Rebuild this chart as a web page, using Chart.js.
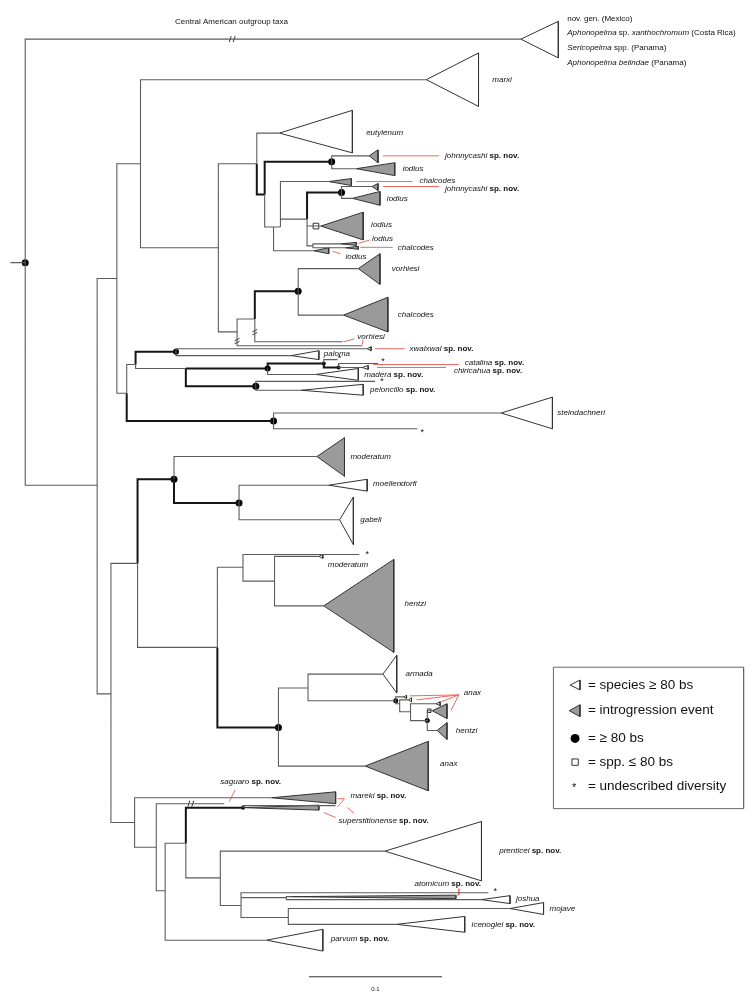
<!DOCTYPE html>
<html>
<head>
<meta charset="utf-8">
<script src="https://cdn.jsdelivr.net/npm/chart.js@4.4.1/dist/chart.umd.min.js"></script>
<style>
  html, body { margin: 0; padding: 0; background: #fff; }
  #tree { display: block; }
</style>
</head>
<body>
<canvas id="tree" width="756" height="1007"></canvas>
<script>
// tree layout: depth runs left->right, row runs top->bottom (same units as the figure)
// [id, parent, depth, row, bold]
const nodes = [
  ["root", null, 20, 260, 0],
  ["n93", "root", 93, 485, 0],
  ["n113", "n93", 113, 276, 0],
  ["n137", "n113", 137, 160, 0],
  ["n216", "n137", 216, 245, 0],
  ["n255", "n216", 255, 160, 0],
  ["n263", "n255", 263, 191, 1],
  ["n331", "n263", 331, 158, 1],
  ["n272", "n263", 272, 224, 0],
  ["n279", "n272", 279, 224, 0],
  ["n306", "n279", 306, 216, 0],
  ["n341", "n306", 341, 189, 1],
  ["n315", "n306", 315, 223, 0],
  ["n312", "n306", 312, 243, 0],
  ["n235", "n216", 235, 330, 0],
  ["n253", "n235", 253, 317, 0],
  ["n297", "n253", 297, 289, 1],
  ["n123", "n113", 123, 392, 0],
  ["n132", "n123", 132, 363, 0],
  ["n173", "n132", 173, 350, 1],
  ["n183", "n132", 183, 367, 0],
  ["n266", "n183", 266, 367, 1],
  ["n323", "n266", 323, 362, 1],
  ["n338", "n323", 338, 366, 1],
  ["n254", "n183", 254, 385, 1],
  ["n272b", "n123", 272, 420, 1],
  ["n107", "n93", 107, 696, 0],
  ["n134", "n107", 134, 564, 0],
  ["n171", "n134", 171, 479, 1],
  ["n237", "n171", 237, 503, 1],
  ["n215", "n134", 215, 649, 0],
  ["n241", "n215", 241, 568, 0],
  ["n273", "n241", 273, 582, 0],
  ["n277", "n215", 277, 730, 1],
  ["n307", "n277", 307, 690, 0],
  ["n396", "n307", 396, 703, 0],
  ["n400", "n396", 400, 706, 0],
  ["n411", "n400", 411, 714, 0],
  ["n428", "n411", 428, 723, 0],
  ["n131", "n107", 131, 826, 0],
  ["n153", "n131", 153, 851, 0],
  ["n162", "n153", 162, 895, 0],
  ["n183b", "n162", 183, 847, 0],
  ["n241b", "n183b", 241, 811, 1],
  ["n218", "n183b", 218, 882, 0],
  ["n239", "n218", 239, 910, 0],
  ["n285", "n239", 285, 902, 0],
  ["n287", "n239", 287, 922, 0],
];

// collapsed clades: [name, parent, apex, row, base, top, bottom, introgression]
const clades = [
  ["outgroup", "root", 523, 34, 561, 16, 53, 0],
  ["marxi", "n137", 427, 75, 480, 48, 102, 0],
  ["eutylenum", "n255", 278, 129, 352, 106, 149, 0],
  ["johnnycashi", "n331", 369, 152, 378, 146, 159, 1],
  ["iodius", "n331", 356, 165, 395, 159, 172, 1],
  ["chalcodes", "n279", 328, 178, 351, 175, 182, 1],
  ["johnnycashi", "n341", 372, 183, 378, 180, 187, 1],
  ["iodius", "n341", 352, 195, 380, 188, 202, 1],
  ["iodius", "n315", 320, 223, 363, 209, 237, 1],
  ["iodius", "n312", 340, 241, 356, 239.5, 242.5, 1],
  ["chalcodes", "n312", 345, 245, 358, 243.5, 246.5, 1],
  ["iodius", "n272", 313, 248, 328, 245, 251, 1],
  ["vorhiesi", "n297", 358, 266, 380, 251, 282, 1],
  ["chalcodes", "n297", 343, 313, 388, 295, 330, 1],
  ["xwalxwal", "n173", 367, 347, 371, 345, 349, 0],
  ["paloma", "n173", 290, 354, 318, 349, 358, 0],
  ["catalina", "n338", 362, 366, 368, 364, 368, 0],
  ["madera", "n266", 315, 373, 358, 367, 379, 0],
  ["peloncillo", "n254", 300, 389, 363, 383, 394, 0],
  ["steindachneri", "n272b", 503, 412, 555, 396, 428, 0],
  ["moderatum", "n171", 316, 456, 344, 437, 476, 1],
  ["moellendorfi", "n237", 328, 485, 367, 479, 491, 0],
  ["gabeli", "n237", 339, 520, 353, 497, 545, 0],
  ["moderatum", "n273", 318, 557, 322, 555, 559, 0],
  ["hentzi", "n273", 323, 607, 394, 560, 654, 1],
  ["armada", "n307", 383, 676, 397, 657, 695, 0],
  ["anax", "n396", 404, 699, 407, 697.5, 700.5, 0],
  ["anax", "n400", 409, 702, 412, 700, 704, 0],
  ["anax", "n411", 437, 706, 441, 704, 708, 0],
  ["anax", "n428", 433, 713, 448, 706, 721, 1],
  ["hentzi", "n428", 438, 733, 448, 725, 742, 1],
  ["anax", "n277", 365, 769, 429, 744, 794, 1],
  ["mareki", "n131", 270, 801, 335, 795, 807, 1],
  ["superstitionense", "n241b", 241, 811, 318, 808.5, 813.5, 1],
  ["prenticei", "n218", 385, 855, 483, 825, 885, 0],
  ["atomicum", "n285", 290, 901, 457, 899.5, 903, 1],
  ["joshua", "n285", 483, 904, 512, 900, 908, 0],
  ["mojave", "n287", 512, 913, 546, 907, 919, 0],
  ["icenoglei", "n287", 397, 929, 466, 921, 937, 0],
  ["parvum", "n162", 265, 945, 322, 934, 956, 0],
];

// single terminals: [parent, depth, row]
const bareTips = [
  ["n253", 342, 340],
  ["n235", 362, 344],
  ["n323", 337, 358],
  ["n338", 378, 362],
  ["n254", 375, 380],
  ["n272b", 418, 428],
  ["n241", 359, 555],
  ["n153", 222, 807],
  ["n241b", 335, 809],
  ["n239", 490, 897],
];

// bootstrap >= 80: [node, radius]
const supportDots = [
  ["root", 3.5], ["n331", 3.5], ["n341", 3.5], ["n297", 3.5], ["n173", 3],
  ["n266", 3], ["n254", 3.5], ["n272b", 3.5], ["n171", 3.5], ["n237", 3.5],
  ["n277", 3.5], ["n428", 2.5], ["n241b", 2], ["n323", 2], ["n338", 2], ["n396", 2.5],
];
// weak support squares: [depth, row, size]
const weakSquares = [[315, 223, 4], [430, 713, 2.5]];
const asterisks = [[339, 355], [383, 358], [382, 378], [423, 430], [367, 553], [497, 894]];
// branch breaks: [depth, row, onVertical]
const breaks = [[230, 34, 0], [188, 807, 0], [235, 338, 1], [253, 329, 1]];

// red pointer lines
const pointers = [
  [[383, 152], [440, 152]],
  [[356, 178], [413, 178]],
  [[383, 183], [440, 183]],
  [[358, 240.5], [370, 237]],
  [[360, 244.5], [393, 244.5]],
  [[332, 248.5], [340, 251]],
  [[343, 340], [354, 337]],
  [[363, 338], [362, 343]],
  [[375, 347], [405, 347]],
  [[373, 363], [460, 363]],
  [[377, 366], [447, 366]],
  [[410, 698], [460, 697]],
  [[417, 702], [460, 697]],
  [[442, 704], [460, 697]],
  [[452, 713], [460, 697]],
  [[233, 793], [227, 805]],
  [[337, 802], [344, 802], [337, 810]],
  [[347, 811], [354, 817]],
  [[323, 816], [335, 821]],
  [[460, 893], [460, 899], [457, 900]],
];

// labels: [x, y, size, [[text, style]...]]  style i=italic b=bold n=normal
const labels = [
  [172, 16, 8, [["Central American outgroup taxa", "n"]]],
  [570, 13, 8, [["nov. gen. (Mexico)", "n"]]],
  [570, 28, 8, [["Aphonopelma", "i"], [" sp. ", "n"], ["xanthochromum", "i"], [" (Costa Rica)", "n"]]],
  [570, 43, 8, [["Sericopelma", "i"], [" spp. (Panama)", "n"]]],
  [570, 58, 8, [["Aphonopelma belindae", "i"], [" (Panama)", "n"]]],
  [494, 75, 8, [["marxi", "i"]]],
  [366, 129, 8, [["eutylenum", "i"]]],
  [446, 152, 8, [["johnnycashi", "i"], [" sp. nov.", "b"]]],
  [403, 165, 8, [["iodius", "i"]]],
  [420, 177, 8, [["chalcodes", "i"]]],
  [446, 185, 8, [["johnnycashi", "i"], [" sp. nov.", "b"]]],
  [387, 195, 8, [["iodius", "i"]]],
  [371, 222, 8, [["iodius", "i"]]],
  [372, 236, 8, [["iodius", "i"]]],
  [398, 245, 8, [["chalcodes", "i"]]],
  [345, 254, 8, [["iodius", "i"]]],
  [392, 266, 8, [["vorhiesi", "i"]]],
  [398, 313, 8, [["chalcodes", "i"]]],
  [357, 335, 8, [["vorhiesi", "i"]]],
  [410, 347, 8, [["xwalxwal", "i"], [" sp. nov.", "b"]]],
  [323, 352, 8, [["paloma", "i"]]],
  [466, 361, 8, [["catalina", "i"], [" sp. nov.", "b"]]],
  [455, 369, 8, [["chiricahua", "i"], [" sp. nov.", "b"]]],
  [364, 373, 8, [["madera", "i"], [" sp. nov.", "b"]]],
  [370, 389, 8, [["peloncillo", "i"], [" sp. nov.", "b"]]],
  [560, 412, 8, [["steindachneri", "i"]]],
  [350, 456, 8, [["moderatum", "i"]]],
  [373, 484, 8, [["moellendorfi", "i"]]],
  [360, 520, 8, [["gabeli", "i"]]],
  [327, 565, 8, [["moderatum", "i"]]],
  [405, 605, 8, [["hentzi", "i"]]],
  [406, 676, 8, [["armada", "i"]]],
  [465, 695, 8, [["anax", "i"]]],
  [457, 733, 8, [["hentzi", "i"]]],
  [441, 767, 8, [["anax", "i"]]],
  [218, 785, 8, [["saguaro", "i"], [" sp. nov.", "b"]]],
  [350, 799, 8, [["mareki", "i"], [" sp. nov.", "b"]]],
  [338, 824, 8, [["superstitionense", "i"], [" sp. nov.", "b"]]],
  [501, 855, 8, [["prenticei", "i"], [" sp. nov.", "b"]]],
  [415, 888, 8, [["atomicum", "i"], [" sp. nov.", "b"]]],
  [518, 903, 8, [["joshua", "i"]]],
  [552, 913, 8, [["mojave", "i"]]],
  [473, 929, 8, [["icenoglei", "i"], [" sp. nov.", "b"]]],
  [330, 944, 8, [["parvum", "i"], [" sp. nov.", "b"]]],
];

// key box and scale bar
const keyBox = [556, 669, 749, 812];
const keyTexts = ["= species \u2265 80 bs", "= introgression event", "= \u2265 80 bs", "= spp. \u2264 80 bs", "= undescribed diversity"];
const keyRows = [687, 713, 741, 765, 789];
const scaleBar = [308, 443, 982];
const scaleLabel = "0.1";

const byId = new Map(nodes.map((n) => [n[0], n]));
const GAP = { x: null, y: null };

function elbow(parentId, x, y) {
  const p = byId.get(parentId);
  return [{ x: p[2], y: p[3] }, { x: p[2], y }, { x, y }, GAP];
}

const thinPts = [];
const boldPts = [];
for (const n of nodes) {
  if (!n[1]) continue;
  (n[4] ? boldPts : thinPts).push(...elbow(n[1], n[2], n[3]));
}
for (const c of clades) {
  if (c[1] === "n241b") continue;
  thinPts.push(...elbow(c[1], c[2], c[3]));
}
for (const t of bareTips) thinPts.push(...elbow(t[0], t[1], t[2]));
thinPts.push({ x: 5, y: 260 }, { x: 20, y: 260 }, GAP);

const breakPts = [];
for (const b of breaks) {
  const [bx, by, vert] = b;
  if (vert) {
    breakPts.push({ x: bx - 2.5, y: by + 1 }, { x: bx + 2.5, y: by - 1.5 }, GAP);
    breakPts.push({ x: bx - 2.5, y: by + 4 }, { x: bx + 2.5, y: by + 1.5 }, GAP);
  } else {
    breakPts.push({ x: bx - 3, y: by + 3 }, { x: bx - 1, y: by - 3 }, GAP);
    breakPts.push({ x: bx + 1, y: by + 3 }, { x: bx + 3, y: by - 3 }, GAP);
  }
}

const redPts = [];
for (const p of pointers) {
  for (const [x, y] of p) redPts.push({ x, y });
  redPts.push(GAP);
}

function triangle(apex, y, base, top, bottom) {
  return [{ x: apex, y }, { x: base, y: top }, { x: base, y: bottom }, { x: apex, y }];
}

const lineDefaults = { showLine: true, pointRadius: 0, spanGaps: false, fill: false, tension: 0 };

const datasets = [
  { ...lineDefaults, data: thinPts, borderColor: "#5c5c5c", borderWidth: 1.1 },
  { ...lineDefaults, data: boldPts, borderColor: "#151515", borderWidth: 2 },
  { ...lineDefaults, data: breakPts, borderColor: "#333", borderWidth: 1 },
  { ...lineDefaults, data: redPts, borderColor: "#ec6b61", borderWidth: 1 },
];

for (const c of clades) {
  datasets.push({
    ...lineDefaults,
    data: triangle(c[2], c[3], c[4], c[5], c[6]),
    borderColor: "#333",
    borderWidth: 1,
    fill: "shape",
    backgroundColor: c[7] ? "#9a9a9a" : "#ffffff",
  });
}

// key symbols
const [kx0, ky0, kx1, ky1] = keyBox;
datasets.push({
  ...lineDefaults,
  data: [{ x: kx0, y: ky0 }, { x: kx1, y: ky0 }, { x: kx1, y: ky1 }, { x: kx0, y: ky1 }, { x: kx0, y: ky0 }],
  borderColor: "#666", borderWidth: 1,
});
datasets.push({ ...lineDefaults, data: triangle(573, keyRows[0], 583, keyRows[0] - 5, keyRows[0] + 5), borderColor: "#333", borderWidth: 1, fill: "shape", backgroundColor: "#fff" });
datasets.push({ ...lineDefaults, data: triangle(572, keyRows[1], 583, keyRows[1] - 6, keyRows[1] + 6), borderColor: "#333", borderWidth: 1, fill: "shape", backgroundColor: "#9a9a9a" });

// scale bar
datasets.push({ ...lineDefaults, data: [{ x: scaleBar[0], y: scaleBar[2] }, { x: scaleBar[1], y: scaleBar[2] }], borderColor: "#333", borderWidth: 1 });

// support symbols
datasets.push({
  showLine: false,
  data: supportDots.map(([id]) => ({ x: byId.get(id)[2], y: byId.get(id)[3] })).concat([{ x: 578, y: keyRows[2] }]),
  pointRadius: supportDots.map((d) => d[1]).concat([4.5]),
  pointBackgroundColor: "#000",
  pointBorderWidth: 0,
});
datasets.push({
  showLine: false,
  data: weakSquares.map(([x, y]) => ({ x, y })).concat([{ x: 578, y: keyRows[3] }]),
  pointStyle: "rect",
  pointRadius: weakSquares.map((s) => s[2]).concat([4.5]),
  pointBackgroundColor: "#fff",
  pointBorderColor: "#333",
  pointBorderWidth: 1,
});

const FONT = '"Liberation Sans", Arial, Helvetica, sans-serif';

function drawRich(ctx, x, y, size, segs) {
  let cx = x;
  for (const [text, style] of segs) {
    const st = style === "i" ? "italic " : style === "b" ? "bold " : "";
    ctx.font = `${st}${size}px ${FONT}`;
    ctx.fillText(text, cx, y);
    cx += ctx.measureText(text).width;
  }
}

const treeText = {
  id: "treeText",
  afterDatasetsDraw(chart) {
    const { ctx } = chart;
    const xs = chart.scales.x;
    const ys = chart.scales.y;
    ctx.save();
    ctx.fillStyle = "#111";
    ctx.textBaseline = "middle";
    ctx.textAlign = "left";
    for (const [x, y, size, segs] of labels) {
      drawRich(ctx, xs.getPixelForValue(x), ys.getPixelForValue(y), size, segs);
    }
    ctx.font = `9px ${FONT}`;
    ctx.textAlign = "center";
    for (const [x, y] of asterisks) {
      ctx.fillText("*", xs.getPixelForValue(x), ys.getPixelForValue(y) + 2);
    }
    ctx.font = `11px ${FONT}`;
    ctx.fillText("*", xs.getPixelForValue(577), ys.getPixelForValue(keyRows[4]) + 2);
    ctx.font = `6px ${FONT}`;
    ctx.fillText(scaleLabel, xs.getPixelForValue((scaleBar[0] + scaleBar[1]) / 2), ys.getPixelForValue(995));
    ctx.textAlign = "left";
    ctx.font = `13.5px ${FONT}`;
    keyTexts.forEach((t, i) => {
      ctx.fillText(t, xs.getPixelForValue(591), ys.getPixelForValue(keyRows[i]));
    });
    ctx.restore();
  },
};

new Chart(document.getElementById("tree"), {
  type: "scatter",
  data: { datasets },
  options: {
    responsive: false,
    animation: false,
    devicePixelRatio: 1,
    layout: { padding: 0 },
    scales: {
      x: { type: "linear", min: 0, max: 756, display: false },
      y: { type: "linear", min: 0, max: 1007, reverse: true, display: false },
    },
    plugins: { legend: { display: false }, tooltip: { enabled: false } },
    elements: { line: { borderJoinStyle: "miter" } },
  },
  plugins: [treeText],
});
</script>
</body>
</html>
